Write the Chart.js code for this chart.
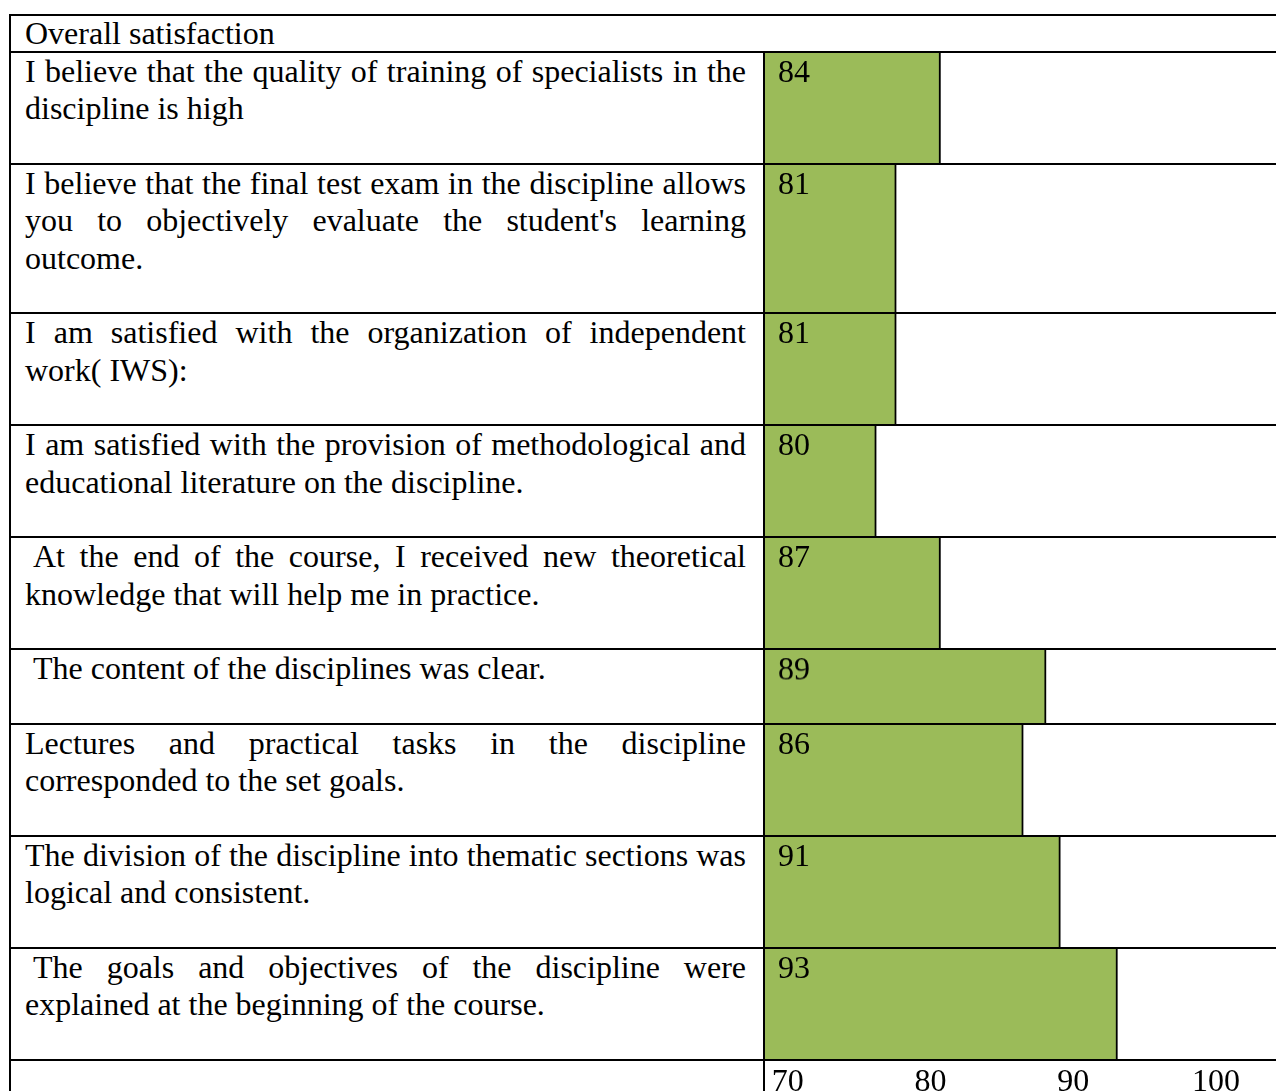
<!DOCTYPE html>
<html>
<head>
<meta charset="utf-8">
<script src="https://cdn.jsdelivr.net/npm/chart.js@4.4.1/dist/chart.umd.min.js"></script>
<style>
  html, body { margin: 0; background: #fff; overflow: hidden; }
  body { width: 1276px; height: 1091px; position: relative; }
  table {
    position: absolute; left: 9px; top: 14px;
    width: 1276px; table-layout: fixed;
    border-collapse: collapse;
    font-family: 'Liberation Serif', 'Times New Roman', serif;
    font-size: 32px; line-height: 37.3px; color: #000;
  }
  td { border: 2px solid #000; padding: 0; vertical-align: top; }
  td.q { padding: 0 17px 35.4px 14px; text-align: justify; }
  td.q.indent { text-indent: 8px; }
  td.head { padding: 0 14px; line-height: 35px; }
  td.bar { position: relative; }
  .box { position: absolute; inset: 0; }
  /* tall box so the top axis gets its full label height; the page cuts it off */
  .box.axis { top: 2px; bottom: auto; height: 140px; }
</style>
</head>
<body>
<table id="grid">
  <colgroup><col style="width:754px"><col></colgroup>
  <tr><td class="head" colspan="2">Overall satisfaction</td></tr>
</table>
<script>
// survey statements, top to bottom (a leading space is kept as in the source table)
const questions = [
  'I believe that the quality of training of specialists in the discipline is high',
  'I believe that the final test exam in the discipline allows you to objectively evaluate the student\'s learning outcome.',
  'I am satisfied with the organization of independent work( IWS):',
  'I am satisfied with the provision of methodological and educational literature on the discipline.',
  ' At the end of the course, I received new theoretical knowledge that will help me in practice.',
  ' The content of the disciplines was clear.',
  'Lectures and practical tasks in the discipline corresponded to the set goals.',
  'The division of the discipline into thematic sections was logical and consistent.',
  ' The goals and objectives of the discipline were explained at the beginning of the course.'
];
// numbers written in the bars
const shownValues = [84, 81, 81, 80, 87, 89, 86, 91, 93];
// where each bar actually ends, read against the axis below
const barValues = [80.7, 77.6, 77.6, 76.2, 80.7, 88.1, 86.5, 89.1, 93.1];
const tickValues = [70, 80, 90, 100];

const axisMin = 68.4;
const axisMax = 104.7;

Chart.defaults.font.family = "'Liberation Serif', 'Times New Roman', serif";
Chart.defaults.font.size = 32;
Chart.defaults.color = '#000';

const valueLabel = {
  id: 'valueLabel',
  afterDatasetsDraw(chart, args, opts) {
    const { ctx, chartArea } = chart;
    ctx.save();
    ctx.fillStyle = '#000';
    ctx.font = "32px 'Liberation Serif', 'Times New Roman', serif";
    ctx.textBaseline = 'alphabetic';
    ctx.fillText(String(opts.text), chartArea.left + 13, chartArea.top + 29);
    ctx.restore();
  }
};

function xScale(show) {
  return {
    type: 'linear',
    display: show,
    position: 'top',
    min: axisMin,
    max: axisMax,
    grid: { display: false },
    border: { display: false },
    ticks: { padding: 0, autoSkip: false, maxRotation: 0 },
    afterBuildTicks: axis => { axis.ticks = tickValues.map(v => ({ value: v })); }
  };
}

function addRow(text, boxClass) {
  const tr = document.createElement('tr');
  const left = document.createElement('td');
  left.className = text.startsWith(' ') ? 'q indent' : 'q';
  left.textContent = text.trim() || '\u00a0';
  const right = document.createElement('td');
  right.className = 'bar';
  const box = document.createElement('div');
  box.className = boxClass;
  const canvas = document.createElement('canvas');
  box.appendChild(canvas);
  right.appendChild(box);
  tr.appendChild(left);
  tr.appendChild(right);
  document.getElementById('grid').appendChild(tr);
  return canvas;
}

const canvases = questions.map(q => addRow(q, 'box'));
const axisCanvas = addRow('', 'box axis');

canvases.forEach((canvas, i) => {
  new Chart(canvas, {
    type: 'bar',
    data: {
      labels: [questions[i].trim()],
      datasets: [{
        data: [barValues[i]],
        backgroundColor: '#9bbb59',
        borderColor: '#000',
        borderWidth: { top: 0, right: 2, bottom: 0, left: 0 },
        barPercentage: 1,
        categoryPercentage: 1
      }]
    },
    options: {
      indexAxis: 'y',
      animation: false,
      responsive: true,
      maintainAspectRatio: false,
      layout: { padding: 0 },
      plugins: {
        legend: { display: false },
        tooltip: { enabled: false },
        valueLabel: { text: shownValues[i] }
      },
      scales: {
        x: xScale(false),
        y: { display: false }
      }
    },
    plugins: [valueLabel]
  });
});

new Chart(axisCanvas, {
  type: 'bar',
  data: { labels: [''], datasets: [{ data: [] }] },
  options: {
    indexAxis: 'y',
    animation: false,
    responsive: true,
    maintainAspectRatio: false,
    layout: { padding: 0 },
    plugins: { legend: { display: false }, tooltip: { enabled: false } },
    scales: {
      x: xScale(true),
      y: { display: false }
    }
  }
});
</script>
</body>
</html>
